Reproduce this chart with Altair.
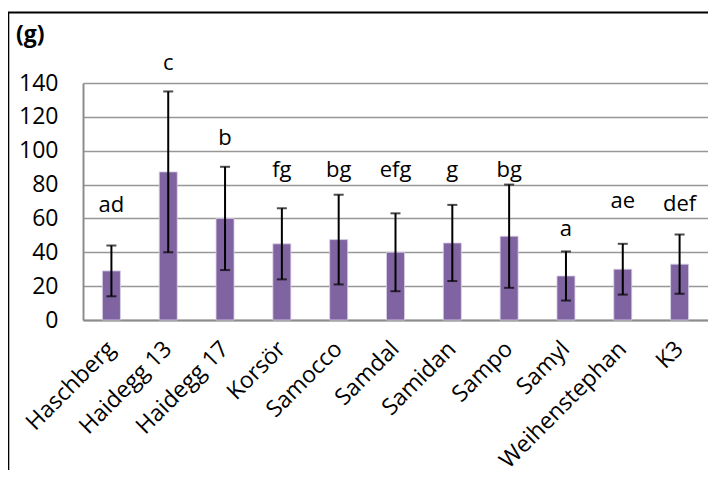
import altair as alt
import pandas as pd

cultivars = ["Haschberg", "Haidegg 13", "Haidegg 17", "Korsör", "Samocco", "Samdal",
             "Samidan", "Sampo", "Samyl", "Weihenstephan", "K3"]
means = [29, 87.5, 60, 45, 47.5, 40, 45.5, 49.5, 26, 30, 33]
sds = [15, 47.5, 30.5, 21, 26.5, 23, 22.5, 30.5, 14.5, 15, 17.5]
letters = ["ad", "c", "b", "fg", "bg", "efg", "g", "bg", "a", "ae", "def"]
letter_pos = [68, 152, 107.5, 88.5, 88.5, 88.5, 88.5, 88.5, 54, 70.5, 68.5]
y_ticks = [0, 20, 40, 60, 80, 100, 120, 140]

df = pd.DataFrame({
    "cultivar": cultivars,
    "mean": means,
    "lo": [m - s for m, s in zip(means, sds)],
    "hi": [m + s for m, s in zip(means, sds)],
    "letter": letters,
    "lpos": letter_pos,
})

FONT = "Open Sans"
x_axis = alt.Axis(labelAngle=-45, labelAlign="right", labelBaseline="middle",
                  labelFontSize=23, labelFont=FONT, labelColor="black",
                  labelPadding=25, ticks=False, domainColor="#8c8c8c",
                  domainWidth=2, labelOverlap=False, labelBound=False, grid=False)
y_axis = alt.Axis(values=y_ticks, labelFontSize=23, labelFont=FONT,
                  labelColor="black", labelPadding=25, ticks=False,
                  labelOverlap=False, labelFlush=False, grid=True,
                  domainColor="#8c8c8c", domainWidth=2,
                  gridColor="#979797", gridWidth=1.6)
y_scale = alt.Scale(domain=[0, 140], nice=False)


def X():
    return alt.X("cultivar:N", sort=cultivars, title=None, axis=x_axis)


def Y(field):
    return alt.Y(field, scale=y_scale, title=None, axis=y_axis)


base = alt.Chart(df)

bars = base.mark_bar(size=18, color="#8064A2", stroke="#d8d0e6", strokeWidth=0.8).encode(
    x=X(), y=Y("mean:Q"))
err = base.mark_rule(color="black", strokeWidth=2).encode(
    x=X(), y=Y("lo:Q"), y2="hi:Q")
cap_lo = base.mark_tick(color="black", orient="horizontal", size=10, thickness=2).encode(
    x=X(), y=Y("lo:Q"))
cap_hi = base.mark_tick(color="black", orient="horizontal", size=10, thickness=2).encode(
    x=X(), y=Y("hi:Q"))
labels = base.mark_text(fontSize=22, font=FONT, color="black", baseline="middle").encode(
    x=X(), y=Y("lpos:Q"), text="letter:N")

title_df = pd.DataFrame({"t": ["(g)"]})
title = alt.Chart(title_df).mark_text(fontSize=23, font=FONT, fontWeight="bold", align="left",
                                      baseline="middle", color="black").encode(
    x=alt.value(-67), y=alt.value(-48), text="t:N")

frame_df = pd.DataFrame({"k": [1]})
frame_left = alt.Chart(frame_df).mark_rule(color="black", strokeWidth=2).encode(
    x=alt.value(-74.7), y=alt.value(-71), y2=alt.value(400))
frame_top = alt.Chart(frame_df).mark_rule(color="black", strokeWidth=2).encode(
    x=alt.value(-75.5), x2=alt.value(700), y=alt.value(-70.5))

chart = alt.layer(bars, err, cap_lo, cap_hi, labels, title, frame_left, frame_top).properties(
    width=625, height=237,
    autosize=alt.AutoSizeParams(type="none"),
    padding={"left": 75, "top": 75, "right": 0, "bottom": 150},
).configure_view(stroke=None)

chart.save("out.html", embed_options={"renderer": "svg", "actions": False})
